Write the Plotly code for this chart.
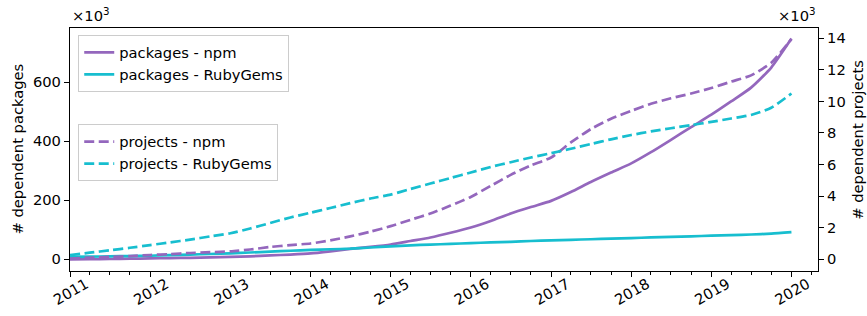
import plotly.graph_objects as go

# ---- data (values in thousands) ----
dates = [
    "2011-01-01", "2011-04-01", "2011-07-01", "2011-10-01",
    "2012-01-01", "2012-04-01", "2012-07-01", "2012-10-01",
    "2013-01-01", "2013-04-01", "2013-07-01", "2013-10-01",
    "2014-01-01", "2014-04-01", "2014-07-01", "2014-10-01",
    "2015-01-01", "2015-04-01", "2015-07-01", "2015-10-01",
    "2016-01-01", "2016-04-01", "2016-07-01", "2016-10-01",
    "2017-01-01", "2017-04-01", "2017-07-01", "2017-10-01",
    "2018-01-01", "2018-04-01", "2018-07-01", "2018-10-01",
    "2019-01-01", "2019-04-01", "2019-07-01", "2019-10-01",
    "2020-01-01",
]

packages_npm = [
    0, 0.5, 1, 2, 3, 4, 5, 6.5, 8, 10, 13, 16, 20, 27, 35, 42,
    50, 62, 74, 90, 108, 130, 155, 177, 198, 228, 262, 294,
    325, 363, 405, 448, 490, 535, 582, 650, 748,
]
packages_rubygems = [
    8, 9, 10, 11, 12, 14, 16, 18, 20, 23, 26, 29, 32, 34, 36, 40,
    44, 47, 50, 52, 55, 57, 59, 62, 64, 66, 68, 70,
    72, 74, 76, 78, 80, 82, 84, 87, 92,
]
projects_npm = [
    0.05, 0.1, 0.15, 0.2, 0.27, 0.33, 0.4, 0.45, 0.5, 0.62, 0.78, 0.9,
    1.0, 1.2, 1.45, 1.75, 2.1, 2.5, 2.9, 3.4, 3.95, 4.65, 5.35, 5.95,
    6.45, 7.4, 8.25, 8.9, 9.4, 9.85, 10.2, 10.5, 10.85, 11.25, 11.65,
    12.45, 13.95,
]
projects_rubygems = [
    0.27, 0.42, 0.57, 0.73, 0.9, 1.07, 1.25, 1.45, 1.65, 1.95, 2.3, 2.65,
    2.95, 3.25, 3.56, 3.85, 4.1, 4.45, 4.8, 5.15, 5.5, 5.85, 6.15, 6.45,
    6.72, 7.0, 7.3, 7.6, 7.87, 8.1, 8.3, 8.5, 8.7, 8.92, 9.14, 9.6, 10.5,
]

left_ticks = [0, 200, 400, 600]
right_ticks = [0, 2, 4, 6, 8, 10, 12, 14]

PURPLE = "#9467bd"
CYAN = "#17becf"
FONT = "DejaVu Sans"
FS = 14.7
LW = 2.7
DASH = "10px,4.5px"

fig = go.Figure()
fig.add_trace(go.Scatter(x=dates, y=packages_npm, mode="lines", name="packages - npm",
                         line=dict(color=PURPLE, width=LW, shape="spline", smoothing=0.6),
                         legend="legend"))
fig.add_trace(go.Scatter(x=dates, y=packages_rubygems, mode="lines", name="packages - RubyGems",
                         line=dict(color=CYAN, width=LW, shape="spline", smoothing=0.6),
                         legend="legend"))
fig.add_trace(go.Scatter(x=dates, y=projects_npm, mode="lines", name="projects - npm",
                         line=dict(color=PURPLE, width=LW, dash=DASH, shape="spline", smoothing=0.6),
                         yaxis="y2", legend="legend2"))
fig.add_trace(go.Scatter(x=dates, y=projects_rubygems, mode="lines", name="projects - RubyGems",
                         line=dict(color=CYAN, width=LW, dash=DASH, shape="spline", smoothing=0.6),
                         yaxis="y2", legend="legend2"))

legend_style = dict(
    bgcolor="rgba(255,255,255,0.8)", bordercolor="#cccccc", borderwidth=1,
    font=dict(family=FONT, size=FS, color="black"), xanchor="left", yanchor="top",
    itemwidth=30, tracegroupgap=0,
)

fig.update_layout(
    width=867, height=316,
    margin=dict(l=70, r=49, t=28, b=45, autoexpand=False),
    paper_bgcolor="white", plot_bgcolor="white",
    font=dict(family=FONT, size=FS, color="black"),
    showlegend=True,
    legend=dict(x=0.011, y=0.97, **legend_style),
    legend2=dict(x=0.011, y=0.603, **legend_style),
    xaxis=dict(
        type="date", range=["2011-01-01", "2020-05-01"], automargin=False,
        tick0="2011-01-01", dtick="M12", tickformat="%Y", tickangle=-30,
        ticks="outside", ticklen=5, tickwidth=1, tickcolor="black",
        ticklabelshift=16, ticklabelstandoff=-7,
        minor=dict(dtick="M3", ticks="outside", ticklen=2.5, tickwidth=0.8, tickcolor="black"),
        showline=True, linecolor="black", linewidth=1.2, mirror=True,
        showgrid=False, zeroline=False,
        tickfont=dict(family=FONT, size=FS, color="black"),
    ),
    yaxis=dict(
        range=[-39.7, 784], tickvals=left_ticks, ticktext=[str(v) for v in left_ticks],
        automargin=False,
        ticks="outside", ticklen=5, tickwidth=1, tickcolor="black",
        showline=True, linecolor="black", linewidth=1.2,
        showgrid=False, zeroline=False,
        tickfont=dict(family=FONT, size=FS, color="black"),
    ),
    yaxis2=dict(
        overlaying="y", side="right", automargin=False,
        range=[-0.741, 14.65], tickvals=right_ticks, ticktext=[str(v) for v in right_ticks],
        ticks="outside", ticklen=5, tickwidth=1, tickcolor="black",
        showline=True, linecolor="black", linewidth=1.2,
        showgrid=False, zeroline=False,
        tickfont=dict(family=FONT, size=FS, color="black"),
    ),
    annotations=[
        dict(text="×10<sup>3</sup>", xref="paper", yref="paper", x=0, y=1,
             xanchor="left", yanchor="bottom", xshift=0, yshift=2, showarrow=False,
             font=dict(family=FONT, size=FS, color="black")),
        dict(text="×10<sup>3</sup>", xref="paper", yref="paper", x=1, y=1,
             xanchor="right", yanchor="bottom", xshift=0, yshift=2, showarrow=False,
             font=dict(family=FONT, size=FS, color="black")),
        dict(text="# dependent packages", xref="paper", yref="paper", x=0, y=0.5,
             xanchor="center", yanchor="middle", xshift=-53, textangle=-90, showarrow=False,
             font=dict(family=FONT, size=FS, color="black")),
        dict(text="# dependent projects", xref="paper", yref="paper", x=1, y=0.54,
             xanchor="center", yanchor="middle", xshift=40, textangle=-90, showarrow=False,
             font=dict(family=FONT, size=FS, color="black")),
    ],
)

fig.write_html(
    "out.html",
    config={"displayModeBar": False},
    post_script="document.body.style.margin='0';document.body.style.padding='0';"
                "document.body.style.overflow='hidden';",
)
